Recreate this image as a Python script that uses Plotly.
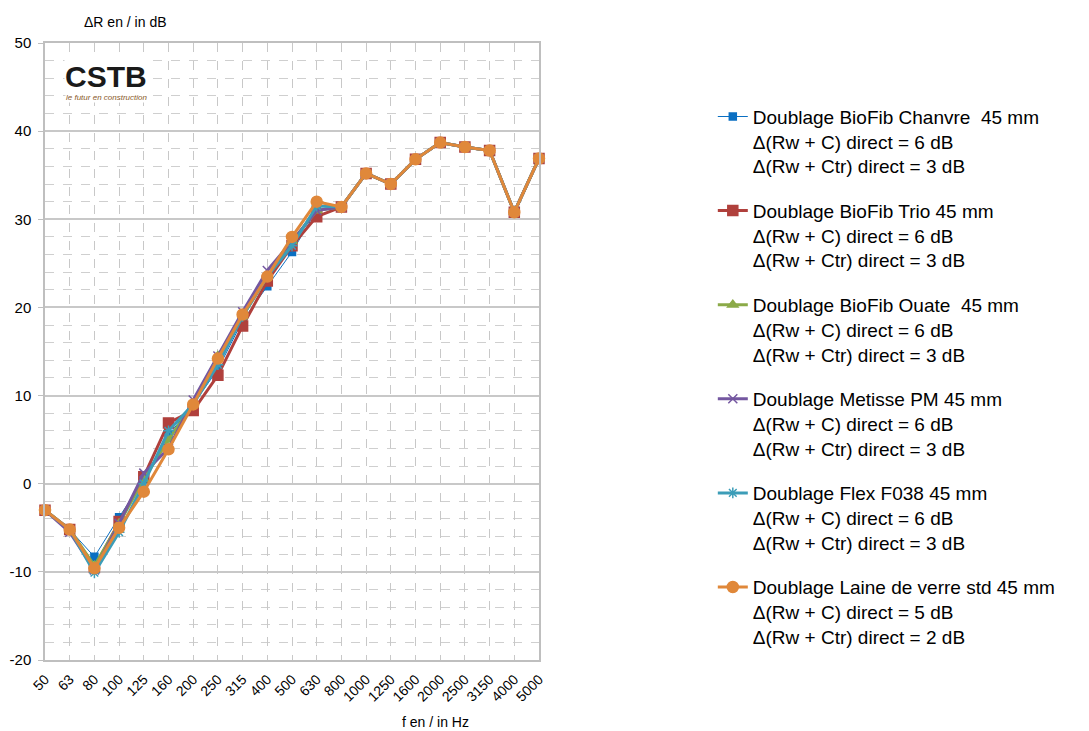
import plotly.graph_objects as go

freqs = ["50", "63", "80", "100", "125", "160", "200", "250", "315", "400", "500",
         "630", "800", "1000", "1250", "1600", "2000", "2500", "3150", "4000", "5000"]

chanvre = [-3.0, -5.2, -8.3, -3.8, 0.5, 5.5, 9.0, 13.0, 18.5, 22.4, 26.3, 31.0, 31.4, 35.2, 34.0, 36.8, 38.7, 38.2, 37.8, 30.8, 36.9]
trio    = [-3.0, -5.2, -9.5, -4.3, 0.8, 6.9, 8.3, 12.3, 17.9, 23.0, 27.0, 30.3, 31.4, 35.2, 34.0, 36.8, 38.7, 38.2, 37.8, 30.8, 36.9]
ouate   = [-3.0, -5.2, -9.3, -4.5, 0.5, 5.0, 9.0, 14.5, 19.0, 23.5, 27.5, 31.0, 31.4, 35.2, 34.0, 36.8, 38.7, 38.2, 37.8, 30.8, 36.9]
metisse = [-3.0, -5.5, -9.8, -4.5, 1.2, 4.0, 9.5, 14.5, 19.5, 24.2, 27.5, 31.0, 31.4, 35.2, 34.0, 36.8, 38.7, 38.2, 37.8, 30.8, 36.9]
flex    = [-3.0, -5.2, -10.1, -5.5, 0.0, 6.0, 9.0, 13.5, 19.0, 23.5, 27.0, 31.5, 31.4, 35.2, 34.0, 36.8, 38.7, 38.2, 37.8, 30.8, 36.9]
laine   = [-3.0, -5.2, -9.6, -5.0, -0.9, 3.9, 9.0, 14.2, 19.2, 23.5, 28.0, 32.0, 31.4, 35.2, 34.0, 36.8, 38.7, 38.2, 37.8, 30.8, 36.9]

y_tickvals = [-20, -10, 0, 10, 20, 30, 40, 50]
y_ticktext = ["-20", "-10", "0", "10", "20", "30", "40", "50"]

names = [
    "Doublage BioFib Chanvre  45 mm<br>Δ(Rw + C) direct = 6 dB<br>Δ(Rw + Ctr) direct = 3 dB",
    "Doublage BioFib Trio 45 mm<br>Δ(Rw + C) direct = 6 dB<br>Δ(Rw + Ctr) direct = 3 dB",
    "Doublage BioFib Ouate  45 mm<br>Δ(Rw + C) direct = 6 dB<br>Δ(Rw + Ctr) direct = 3 dB",
    "Doublage Metisse PM 45 mm<br>Δ(Rw + C) direct = 6 dB<br>Δ(Rw + Ctr) direct = 3 dB",
    "Doublage Flex F038 45 mm<br>Δ(Rw + C) direct = 6 dB<br>Δ(Rw + Ctr) direct = 3 dB",
    "Doublage Laine de verre std 45 mm<br>Δ(Rw + C) direct = 5 dB<br>Δ(Rw + Ctr) direct = 2 dB",
]

series = [chanvre, trio, ouate, metisse, flex, laine]
colors = ["#0A6FC2", "#B0403C", "#8BAA48", "#7457A0", "#3C9DB8", "#E0883A"]
widths = [1, 3, 3, 3, 3, 3]
symbols = ["square", "square", "triangle-up", "x-thin-open", "asterisk-open", "circle"]
sizes = [7, 10, 9, 9, 9, 11]

fig = go.Figure()
for i, (ys, nm) in enumerate(zip(series, names)):
    fig.add_trace(go.Scatter(
        x=freqs, y=ys, name=nm, mode="lines+markers",
        legendgroup=f"g{i}",
        line=dict(color=colors[i], width=widths[i]),
        marker=dict(symbol=symbols[i], size=sizes[i], color=colors[i],
                    line=dict(color=colors[i], width=1.5)),
        cliponaxis=False,
    ))

W, H = 1081, 723
fig.update_layout(
    width=W, height=H,
    margin=dict(l=37, r=550, t=35, b=71, autoexpand=False),
    paper_bgcolor="white", plot_bgcolor="white",
    font=dict(family="Liberation Sans, Arial, sans-serif", color="#000000"),
    showlegend=True,
    legend=dict(
        xref="container", yref="container",
        x=0.652, y=0.876, xanchor="left", yanchor="top",
        font=dict(size=19, color="#000000"),
        valign="top", tracegroupgap=17, itemwidth=30,
        bgcolor="rgba(0,0,0,0)", maxheight=700,
    ),
    xaxis=dict(
        type="category", range=[0, 20], automargin=False,
        showgrid=True, gridcolor="#C8C8C8", griddash="dash", gridwidth=1,
        showline=True, linecolor="#BFBFBF", linewidth=1.5, mirror=True,
        tickangle=-45, tickfont=dict(size=14),
        ticks="outside", ticklen=4, tickcolor="rgba(0,0,0,0)", zeroline=False,
    ),
    yaxis=dict(
        range=[-20, 50], tickvals=y_tickvals, ticktext=y_ticktext, automargin=False,
        showgrid=True, gridcolor="#C8C8C8", gridwidth=1.5,
        minor=dict(dtick=2, showgrid=True, gridcolor="#CFCFCF", griddash="dash", gridwidth=1),
        showline=True, linecolor="#BFBFBF", linewidth=1.5, mirror=True,
        ticks="outside", ticklen=5, tickcolor="#BFBFBF", ticklabelstandoff=4,
        tickfont=dict(size=15), zeroline=False,
    ),
)

PW, PH = 494, 617
fig.add_annotation(text="ΔR en / in dB", xref="paper", yref="paper",
                   x=(125 - 45) / PW, y=1 + (43 - 22) / PH, showarrow=False,
                   xanchor="center", yanchor="middle", font=dict(size=14))
fig.add_annotation(text="f en / in Hz", xref="paper", yref="paper",
                   x=(435 - 45) / PW, y=-(722 - 660) / PH, showarrow=False,
                   xanchor="center", yanchor="middle", font=dict(size=14))
fig.add_annotation(text="<b>CSTB</b>", xref="paper", yref="paper",
                   x=(106 - 45) / PW, y=1 - (77 - 43) / PH, showarrow=False,
                   xanchor="center", yanchor="middle", borderpad=0,
                   font=dict(size=30, family="Liberation Sans", color="#1A1A1A"),
                   bgcolor="white")
fig.add_annotation(text="<i>le futur en construction</i>", xref="paper", yref="paper",
                   x=(106 - 45) / PW, y=1 - (97 - 43) / PH, showarrow=False,
                   xanchor="center", yanchor="middle", borderpad=0,
                   font=dict(size=8, color="#8A5A2B"), bgcolor="white")

fig.write_html("out.html")
